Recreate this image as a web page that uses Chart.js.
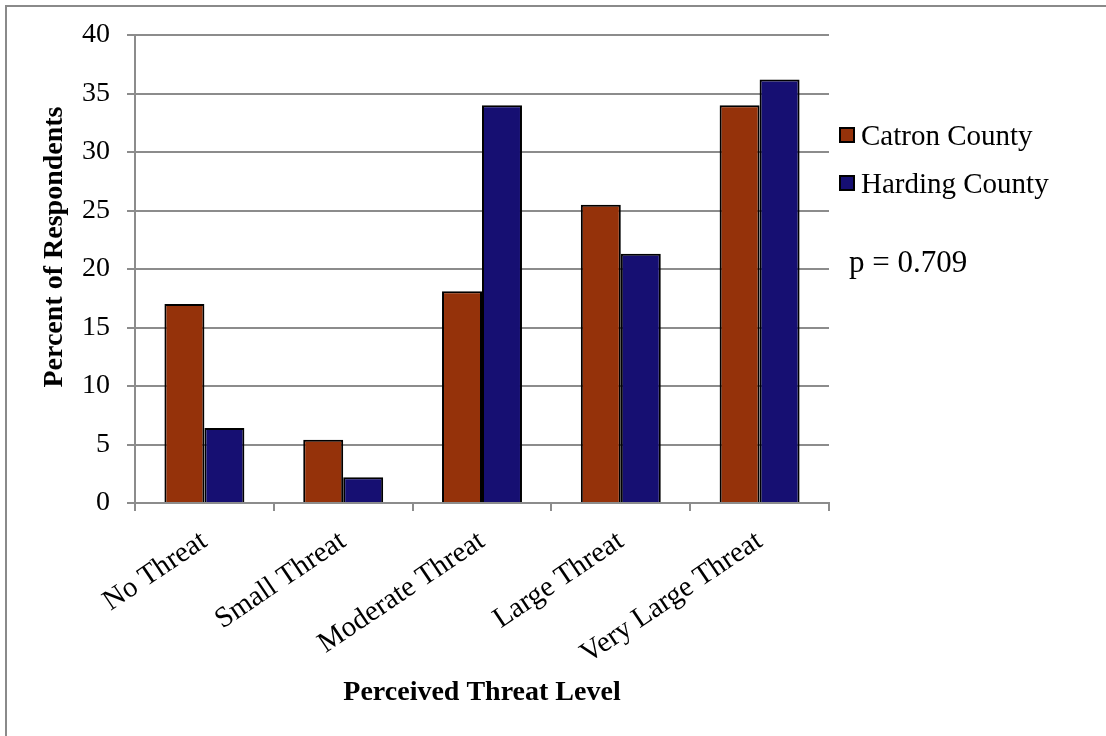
<!DOCTYPE html>
<html>
<head>
<meta charset="utf-8">
<script src="https://cdn.jsdelivr.net/npm/chart.js@4.4.1/dist/chart.umd.min.js"></script>
<style>
  html, body { margin: 0; padding: 0; background: #ffffff; }
  #wrap { position: relative; width: 1106px; height: 736px; }
</style>
</head>
<body>
<div id="wrap"><canvas id="chart" width="1106" height="736"></canvas></div>
<script>
// Survey results: perceived threat level by county
const categories = ['No Threat', 'Small Threat', 'Moderate Threat', 'Large Threat', 'Very Large Threat'];
const catronValues = [17.0, 5.4, 18.1, 25.5, 34.0];
const hardingValues = [6.4, 2.2, 34.0, 21.3, 36.2];
const seriesNames = ['Catron County', 'Harding County'];
const yTicks = [0, 5, 10, 15, 20, 25, 30, 35, 40];
const pValueText = 'p = 0.709';
const xTitle = 'Perceived Threat Level';
const yTitle = 'Percent of Respondents';

const SERIF = '"Liberation Serif", "Times New Roman", serif';
const GRID = '#8c8c8c';

// Frame, axis titles, legend and p-value annotation
const decorations = {
  id: 'decorations',
  beforeDraw(chart) {
    const ctx = chart.ctx;
    ctx.save();
    ctx.fillStyle = '#ffffff';
    ctx.fillRect(0, 0, chart.width, chart.height);
    ctx.strokeStyle = '#8a8a8a';
    ctx.lineWidth = 2;
    ctx.beginPath();
    ctx.moveTo(6, chart.height);
    ctx.lineTo(6, 6);
    ctx.lineTo(chart.width, 6);
    ctx.stroke();
    ctx.restore();
  },
  afterDraw(chart) {
    const ctx = chart.ctx;
    const area = chart.chartArea;
    ctx.save();
    ctx.fillStyle = '#000000';

    // x axis title
    ctx.font = 'bold 28px ' + SERIF;
    ctx.textAlign = 'center';
    ctx.textBaseline = 'alphabetic';
    ctx.fillText(xTitle, (area.left + area.right) / 2, 700);

    // y axis title
    ctx.save();
    ctx.translate(62, 247);
    ctx.rotate(-Math.PI / 2);
    ctx.fillText(yTitle, 0, 0);
    ctx.restore();

    // legend
    ctx.font = '29px ' + SERIF;
    ctx.textAlign = 'left';
    chart.data.datasets.forEach((ds, i) => {
      const y = 128 + i * 48;
      ctx.fillStyle = ds.backgroundColor;
      ctx.fillRect(840, y, 14, 14);
      ctx.strokeStyle = '#000000';
      ctx.lineWidth = 2;
      ctx.strokeRect(840, y, 14, 14);
      ctx.fillStyle = '#000000';
      ctx.fillText(ds.label, 861, y + 17);
    });

    // significance note
    ctx.font = '31px ' + SERIF;
    ctx.fillText(pValueText, 849, 272);
    ctx.restore();
  }
};

new Chart(document.getElementById('chart'), {
  type: 'bar',
  data: {
    labels: categories,
    datasets: [
      { label: seriesNames[0], data: catronValues, backgroundColor: '#95320a', borderColor: '#000000', borderWidth: 2 },
      { label: seriesNames[1], data: hardingValues, backgroundColor: '#160f72', borderColor: '#000000', borderWidth: 2 }
    ]
  },
  options: {
    responsive: false,
    animation: false,
    events: [],
    categoryPercentage: 0.576,
    barPercentage: 1.0,
    layout: { padding: { top: 35, right: 277, left: 0, bottom: 0 } },
    plugins: {
      legend: { display: false },
      tooltip: { enabled: false },
      title: { display: false }
    },
    scales: {
      x: {
        afterFit(scale) { scale.height = 233; },
        grid: {
          display: true,
          offset: true,
          drawOnChartArea: false,
          drawTicks: true,
          tickLength: 8,
          color: GRID,
          lineWidth: 2
        },
        border: { display: true, color: GRID, width: 2 },
        ticks: {
          minRotation: 34,
          maxRotation: 34,
          autoSkip: false,
          padding: 13,
          color: '#000000',
          font: { family: SERIF, size: 29 }
        }
      },
      y: {
        min: 0,
        max: 40,
        afterFit(scale) { scale.width = 135; },
        afterBuildTicks(scale) { scale.ticks = yTicks.map(v => ({ value: v })); },
        grid: {
          color: GRID,
          lineWidth: 2,
          drawTicks: true,
          tickLength: 8
        },
        border: { display: true, color: GRID, width: 2 },
        ticks: {
          padding: 17,
          color: '#000000',
          font: { family: SERIF, size: 28 }
        }
      }
    }
  },
  plugins: [decorations]
});
</script>
</body>
</html>
